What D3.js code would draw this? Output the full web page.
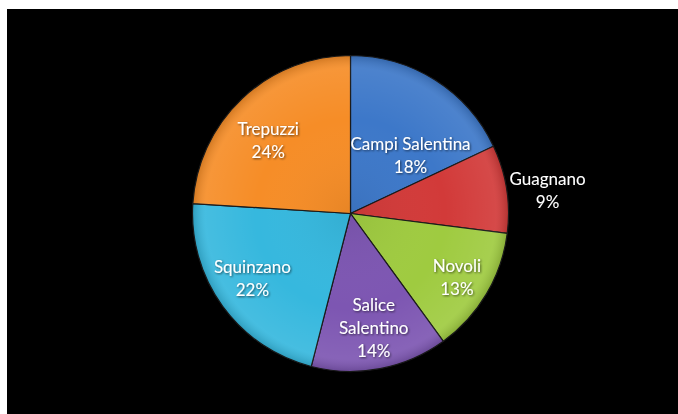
<!DOCTYPE html>
<html>
<head>
<meta charset="utf-8">
<script src="https://cdn.jsdelivr.net/npm/d3@7"></script>
<style>
  html, body { margin: 0; padding: 0; background: #ffffff; }
  svg { display: block; }
</style>
</head>
<body>
<svg id="chart" width="678" height="414"></svg>
<script>
// Comuni and their share of the total (percent)
const comuni = ["Campi Salentina", "Guagnano", "Novoli", "Salice Salentino", "Squinzano", "Trepuzzi"];
const quote = [18, 9, 13, 14, 22, 24];
const colori = ["#3d78c9", "#d23a39", "#9fcb40", "#7d56b2", "#36b8de", "#f68d27"];
// Line breaks used for each label's name
const righe = [["Campi Salentina"], ["Guagnano"], ["Novoli"], ["Salice", "Salentino"], ["Squinzano"], ["Trepuzzi"]];

const svg = d3.select("#chart");
const W = 678, H = 414;

// black slide background
svg.append("rect").attr("x", 7).attr("y", 9).attr("width", W - 7).attr("height", H - 9).attr("fill", "#000");

const cx = 350.5, cy = 213.5, R = 158;
const data = comuni.map((c, i) => ({ name: c, value: quote[i], color: colori[i], lines: righe[i] }));

const pie = d3.pie().value(d => d.value).sort(null);
const arcs = pie(data);
const arc = d3.arc().innerRadius(0).outerRadius(R);
const labelArc = d3.arc().innerRadius(R * 0.65).outerRadius(R * 0.65);
const outerLabelArc = d3.arc().innerRadius(R * 1.16).outerRadius(R * 1.16);

const defs = svg.append("defs");
// soft bevel shading over each wedge: slight highlight near the rim, darker edge
const shade = defs.append("radialGradient").attr("id", "shade")
  .attr("gradientUnits", "userSpaceOnUse")
  .attr("cx", 0).attr("cy", 0).attr("r", R);
shade.append("stop").attr("offset", "0%").attr("stop-color", "#000").attr("stop-opacity", 0.06);
shade.append("stop").attr("offset", "60%").attr("stop-color", "#fff").attr("stop-opacity", 0.0);
shade.append("stop").attr("offset", "92%").attr("stop-color", "#fff").attr("stop-opacity", 0.08);
shade.append("stop").attr("offset", "100%").attr("stop-color", "#000").attr("stop-opacity", 0.15);

const filt = defs.append("filter").attr("id", "txtShadow").attr("x", "-20%").attr("y", "-20%").attr("width", "140%").attr("height", "140%");
filt.append("feDropShadow").attr("dx", 1).attr("dy", 1).attr("stdDeviation", 0.8).attr("flood-color", "#000").attr("flood-opacity", 0.6);

const g = svg.append("g").attr("transform", `translate(${cx},${cy})`);

const wedges = g.selectAll("g.wedge").data(arcs).join("g").attr("class", "wedge");
wedges.append("path").attr("d", arc).attr("fill", d => d.data.color)
  .attr("stroke", "#1a1a1a").attr("stroke-width", 1.2).attr("stroke-linejoin", "round");
wedges.append("path").attr("d", arc).attr("fill", "url(#shade)").attr("pointer-events", "none");

// fine nudges so each label sits like the best-fit placement
const nudge = {
  "Campi Salentina": [5, 29],
  "Guagnano": [16, 6],
  "Novoli": [18, 12],
  "Salice Salentino": [4, 14],
  "Squinzano": [-15, 5],
  "Trepuzzi": [-12, 2]
};
const outside = new Set(["Guagnano"]);
const lineH = 23;

g.selectAll("text.lbl").data(arcs).join("text")
  .attr("class", "lbl")
  .attr("text-anchor", "middle")
  .attr("font-family", "Lato, 'Open Sans', sans-serif")
  .attr("font-size", 17)
  .attr("fill", "#fff")
  .attr("filter", "url(#txtShadow)")
  .each(function (d) {
    const p = (outside.has(d.data.name) ? outerLabelArc : labelArc).centroid(d);
    const n = nudge[d.data.name];
    const x = p[0] + n[0], y = p[1] + n[1];
    const lines = d.data.lines.concat([d.data.value + "%"]);
    const top = y - (lines.length - 1) * lineH / 2;
    const t = d3.select(this);
    lines.forEach((s, i) => {
      t.append("tspan").attr("x", x).attr("y", top + i * lineH).attr("dy", "0.35em").text(s);
    });
  });
</script>
</body>
</html>
